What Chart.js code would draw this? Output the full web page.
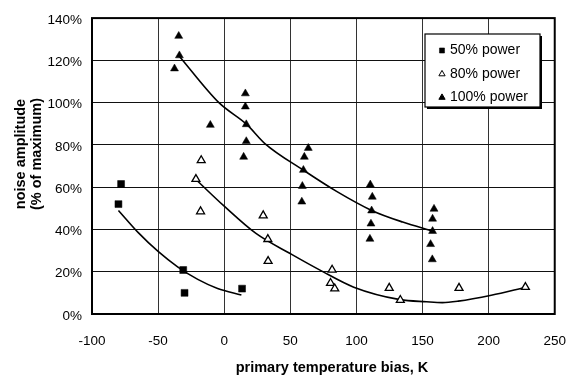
<!DOCTYPE html>
<html>
<head>
<meta charset="utf-8">
<script src="https://cdn.jsdelivr.net/npm/chart.js@4/dist/chart.umd.min.js"></script>
<style>
  html, body { margin: 0; padding: 0; background: #fff; }
  #wrap { width: 585px; height: 379px; }
</style>
</head>
<body>
<div id="wrap"><canvas id="c" width="585" height="379"></canvas></div>
<script>
// Measured noise amplitude vs. primary temperature bias
const bias50 = [-80, -78, -31, -30, 13.5];
const noise50 = [52, 61.5, 20.8, 10, 12];

const bias80 = [-17.4, -21.4, -17.9, 29.5, 33, 33.2, 81.6, 80.4, 83.6, 124.8, 133.2, 177.6, 227.8];
const noise80 = [72.7, 63.8, 48.5, 46.6, 35.4, 25, 20.9, 14.6, 12, 12.3, 6.6, 12.3, 12.7];

const bias100 = [-34.4, -33.9, -37.6, -10.5, 16, 16, 16.7, 16.7, 14.7, 63.6, 60.6, 59.9, 59.1, 58.7,
                 110.5, 112, 111.5, 111, 110.2, 158.7, 157.6, 157.6, 156.1, 157.4];
const noise100 = [131.5, 122.3, 116.1, 89.4, 104.3, 98.1, 89.7, 81.7, 74.3, 78.5, 74.3, 68.1, 60.5, 53.1,
                  61.2, 55.4, 48.9, 42.7, 35.5, 49.7, 45, 39.2, 33, 25.8];

// Trend curves for each power level
const trend50x = [-80, -65, -50, -35, -20, -5, 13];
const trend50y = [49, 38.5, 29.6, 22.2, 16.4, 12.1, 9];
const trend80x = [-22, 0, 24, 51, 73.5, 98, 133, 153, 165, 177, 202, 228];
const trend80y = [64, 51, 38.1, 28.2, 20.4, 12.7, 6.8, 5.8, 5.4, 6.1, 8.9, 12.7];
const trend100x = [-34, -4, 17, 31, 60, 85, 111.5, 135, 158];
const trend100y = [122, 100, 89.7, 80.5, 68, 58, 49, 43.5, 39.2];

const seriesLabels = ['50% power', '80% power', '100% power'];
const xTicks = [-100, -50, 0, 50, 100, 150, 200, 250];
const yTicks = [0, 20, 40, 60, 80, 100, 120, 140];
const xTitle = 'primary temperature bias, K';
const yTitle = ['noise amplitude', '(% of maximum)'];

const pts = (xs, ys) => xs.map((x, i) => ({ x: x, y: ys[i] }));
const FONT = '"Liberation Sans", Arial, Helvetica, sans-serif';

const markerSets = [
  { label: seriesLabels[0], data: pts(bias50, noise50), pointStyle: 'rect', pointRadius: 4.9,
    backgroundColor: '#000', borderColor: '#000', borderWidth: 0.5 },
  { label: seriesLabels[1], data: pts(bias80, noise80), pointStyle: 'triangle', pointRadius: 4.6,
    backgroundColor: '#fff', borderColor: '#000', borderWidth: 1.3 },
  { label: seriesLabels[2], data: pts(bias100, noise100), pointStyle: 'triangle', pointRadius: 4.6,
    backgroundColor: '#000', borderColor: '#000', borderWidth: 0.5 }
].map(d => Object.assign(d, { showLine: false, order: 0, pointHoverRadius: d.pointRadius }));

const curveSets = [
  pts(trend50x, trend50y), pts(trend80x, trend80y), pts(trend100x, trend100y)
].map(data => ({
  label: '', data: data, showLine: true, pointRadius: 0, borderColor: '#000', borderWidth: 1.6,
  cubicInterpolationMode: 'monotone', fill: false, order: 1, isTrend: true
}));

// Frame around the plot area
const framePlugin = {
  id: 'frame',
  beforeDatasetsDraw(chart) {
    const a = chart.chartArea, ctx = chart.ctx;
    ctx.save();
    ctx.strokeStyle = '#000';
    ctx.lineWidth = 2;
    ctx.strokeRect(a.left, a.top, a.right - a.left, a.bottom - a.top);
    ctx.restore();
  }
};

// Axis titles
const titlePlugin = {
  id: 'titles',
  afterDraw(chart) {
    const ctx = chart.ctx;
    ctx.save();
    ctx.fillStyle = '#000';
    ctx.font = 'bold 14.5px ' + FONT;
    ctx.textAlign = 'center';
    ctx.textBaseline = 'middle';
    ctx.fillText(xTitle, 332, 368);
    ctx.translate(29, 154);
    ctx.rotate(-Math.PI / 2);
    ctx.fillText(yTitle[0], 0, -8);
    ctx.fillText(yTitle[1], 0, 8);
    ctx.restore();
  }
};

// Boxed legend inside the plot area
const legendPlugin = {
  id: 'boxLegend',
  afterDatasetsDraw(chart) {
    const ctx = chart.ctx;
    const bx = 425, by = 34, bw = 115, bh = 73;
    ctx.save();
    ctx.fillStyle = '#000';
    ctx.fillRect(bx + 2, by + 2, bw, bh);
    ctx.fillStyle = '#fff';
    ctx.fillRect(bx, by, bw, bh);
    ctx.strokeStyle = '#000';
    ctx.lineWidth = 1.2;
    ctx.strokeRect(bx, by, bw, bh);
    ctx.font = '14px ' + FONT;
    ctx.textBaseline = 'middle';
    ctx.textAlign = 'left';
    const rows = [50.5, 74, 97.5];
    chart.data.datasets.filter(d => !d.isTrend).forEach((d, i) => {
      const y = rows[i];
      ctx.fillStyle = d.backgroundColor;
      ctx.strokeStyle = d.borderColor;
      ctx.lineWidth = d.pointStyle === 'rect' ? 0.5 : 1;
      Chart.helpers.drawPoint(ctx, { pointStyle: d.pointStyle, radius: 3.6, rotation: 0,
                                     borderWidth: ctx.lineWidth }, 442, y);
      ctx.fillStyle = '#000';
      ctx.fillText(d.label, 450, y);
    });
    ctx.restore();
  }
};

new Chart(document.getElementById('c'), {
  type: 'scatter',
  data: { datasets: markerSets.concat(curveSets) },
  options: {
    responsive: false,
    animation: false,
    devicePixelRatio: 1,
    layout: { padding: { left: 0, top: 11, right: 20, bottom: 0 } },
    plugins: { legend: { display: false }, tooltip: { enabled: false } },
    scales: {
      x: {
        type: 'linear', min: xTicks[0], max: xTicks[xTicks.length - 1],
        afterBuildTicks: s => { s.ticks = xTicks.map(v => ({ value: v })); },
        afterFit: s => { s.height = 65; },
        grid: { color: '#333', lineWidth: 1, drawTicks: false },
        border: { display: false },
        ticks: { color: '#000', font: { family: FONT, size: 13.5 }, padding: 19, maxRotation: 0 }
      },
      y: {
        type: 'linear', min: yTicks[0], max: yTicks[yTicks.length - 1],
        afterBuildTicks: s => { s.ticks = yTicks.map(v => ({ value: v })); },
        afterFit: s => { s.width = 92; },
        grid: { color: '#111', lineWidth: 1, drawTicks: false },
        border: { display: false },
        ticks: { color: '#000', font: { family: FONT, size: 13.5 }, padding: 10, labelOffset: 2,
                 callback: v => v + '%' }
      }
    }
  },
  plugins: [framePlugin, legendPlugin, titlePlugin]
});
</script>
</body>
</html>
